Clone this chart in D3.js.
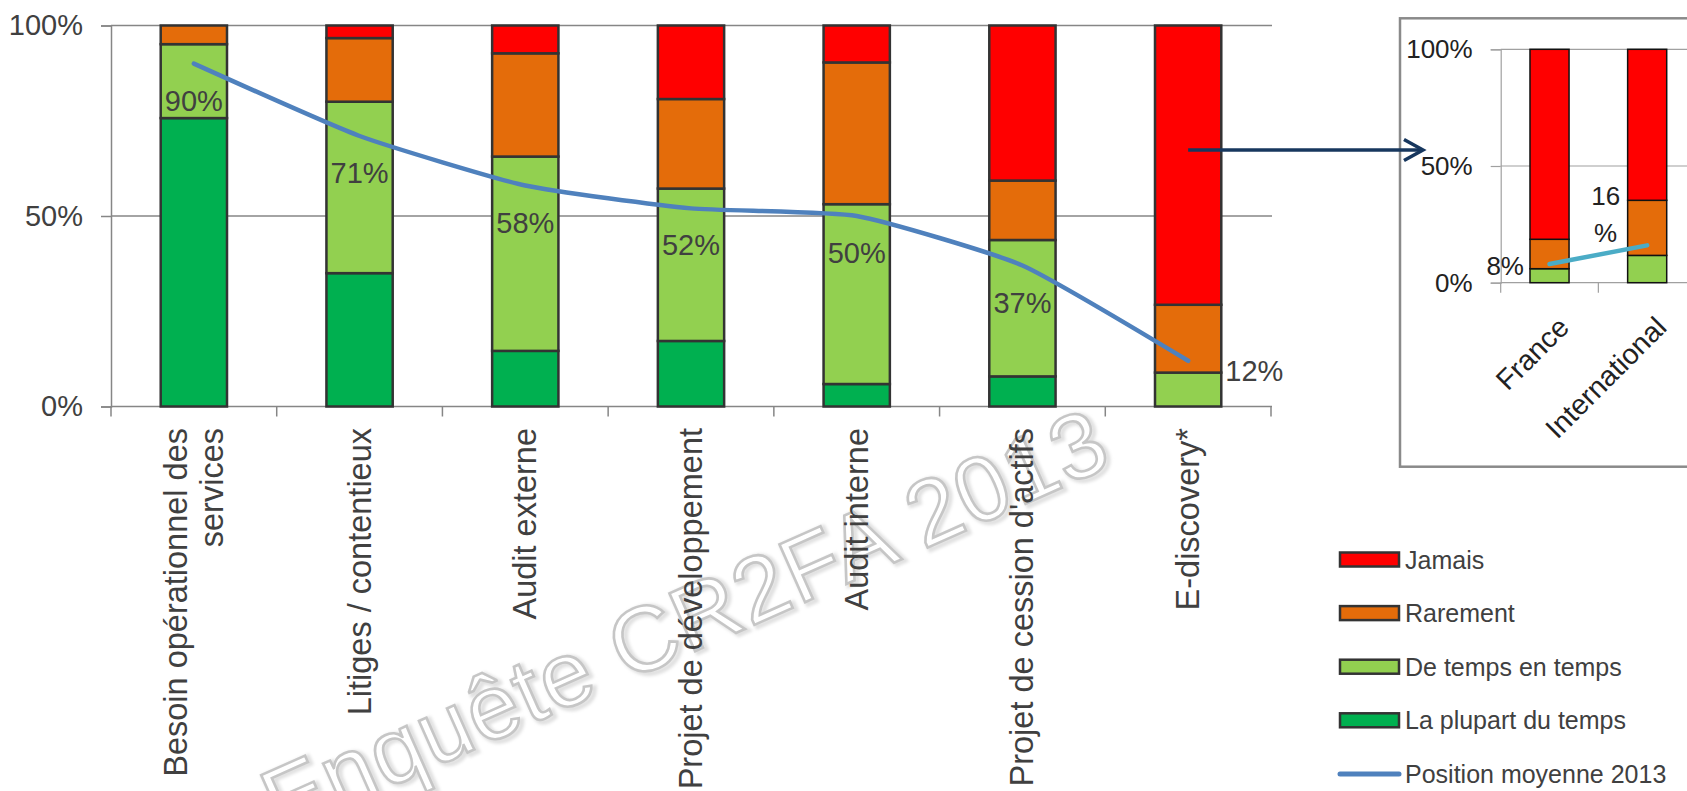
<!DOCTYPE html>
<html><head><meta charset="utf-8">
<script src="https://cdn.jsdelivr.net/npm/d3@7"></script>
<style>
body{margin:0;background:#fff;}
svg{display:block;}
text{font-family:"Liberation Sans",Arial,sans-serif;}
</style>
</head><body>
<svg id="c" width="1687" height="791"></svg>
<script>
// ---------- DATA ----------
const categories = ["Besoin opérationnel des services", "Litiges / contentieux", "Audit externe",
  "Projet de développement", "Audit interne", "Projet de cession d'actifs", "E-discovery*"];
const seriesKeys = ["La plupart du temps", "De temps en temps", "Rarement", "Jamais"];
const plupart  = [75.7, 35.0, 14.6, 17.2, 5.9, 7.9, 0];
const deTemps  = [19.4, 45.0, 51.0, 40.0, 47.2, 35.8, 8.9];
const rarement = [4.9, 16.7, 27.1, 23.5, 37.2, 15.6, 17.8];
const jamais   = [0, 3.3, 7.3, 19.3, 9.7, 40.7, 73.3];
const moyenne  = [90, 71, 58, 52, 50, 37, 12];
const yTicks = [0, 50, 100];

const insetCategories = ["France", "International"];
const insetPlupart  = [0, 0];
const insetDeTemps  = [6.0, 11.7];
const insetRarement = [12.6, 23.6];
const insetJamais   = [81.4, 64.7];
const insetMoyenne  = [8, 16];

const legendItems = ["Jamais", "Rarement", "De temps en temps", "La plupart du temps"];
const lineName = "Position moyenne 2013";
const watermark = "Enquête CR2FA 2013";

// ---------- SETUP ----------
const svg = d3.select("#c");
const colors = d3.scaleOrdinal().domain(seriesKeys).range(["#00B050", "#92D050", "#E46C0A", "#FF0000"]);
const txt = "#404040";
const axisCol = "#868686";

// ---------- WATERMARK (under everything) ----------
const defs = svg.append("defs");
const f = defs.append("filter").attr("id", "sh").attr("x", "-10%").attr("y", "-10%").attr("width", "120%").attr("height", "120%");
f.append("feGaussianBlur").attr("stdDeviation", 1.5);
const wm = svg.append("g").attr("transform", "translate(280,836) rotate(-24)").style("pointer-events", "none");
function wmText(g) {
  return g.append("text").attr("font-size", 92).attr("textLength", 913)
    .attr("font-family", '"Open Sans",sans-serif').text(watermark);
}
wmText(wm.append("g").attr("transform", "translate(2,3)"))
  .attr("fill", "none").attr("stroke", "#e0e0e0").attr("stroke-width", 5).attr("filter", "url(#sh)");
wmText(wm).attr("fill", "#fff").attr("stroke", "#c6c6c6").attr("stroke-width", 2.6);

const x = d3.scaleBand().domain(categories).range([111, 1271]).paddingInner(0.6).paddingOuter(0.3);
const y = d3.scaleLinear().domain([0, 100]).range([406.5, 25.5]);

// gridlines
svg.append("g").selectAll("line").data(yTicks).join("line")
  .attr("x1", 111).attr("x2", 1272).attr("y1", d => y(d)).attr("y2", d => y(d))
  .attr("stroke", axisCol).attr("stroke-width", 1.5);

// y axis
const yAxis = svg.append("g").attr("transform", "translate(111,0)")
  .call(d3.axisLeft(y).tickValues(yTicks).tickSize(10).tickPadding(18).tickFormat(d => d + "%"));
yAxis.select(".domain").attr("stroke", axisCol).attr("stroke-width", 1.5);
yAxis.selectAll(".tick line").attr("stroke", axisCol).attr("stroke-width", 1.5);
yAxis.selectAll(".tick text").attr("font-size", 29).attr("fill", txt)
  .attr("font-family", '"Liberation Sans",Arial,sans-serif');

// x axis boundary ticks
const step = x.step();
const bounds = categories.map(c => x(c) - (step - x.bandwidth()) / 2);
bounds.push(bounds[bounds.length - 1] + step);
svg.append("g").selectAll("line").data(bounds).join("line")
  .attr("x1", d => d).attr("x2", d => d).attr("y1", y(0)).attr("y2", y(0) + 10)
  .attr("stroke", axisCol).attr("stroke-width", 1.5);

// stacked bars
const table = categories.map((c, i) => ({cat: c, "La plupart du temps": plupart[i],
  "De temps en temps": deTemps[i], "Rarement": rarement[i], "Jamais": jamais[i]}));
const stacked = d3.stack().keys(seriesKeys)(table);
svg.append("g").selectAll("g").data(stacked).join("g")
  .attr("fill", d => colors(d.key))
  .selectAll("rect").data(d => d.filter(s => s[1] - s[0] > 0)).join("rect")
  .attr("x", d => x(d.data.cat)).attr("width", x.bandwidth())
  .attr("y", d => y(d[1])).attr("height", d => y(d[0]) - y(d[1]))
  .attr("stroke", "#333").attr("stroke-width", 2.5);

// category labels
const catG = svg.append("g");
categories.forEach(c => {
  const g = catG.append("g").attr("transform", `translate(${x(c) + x.bandwidth() / 2},428) rotate(-90)`);
  const t = g.append("text").attr("text-anchor", "end").attr("font-size", 32.5).attr("fill", txt)
    .attr("dominant-baseline", "central").text(c);
  if (t.node().getComputedTextLength() > 400) {
    const words = c.split(" ");
    const lines = [words.slice(0, -1).join(" "), words[words.length - 1]];
    t.text(null);
    lines.forEach((ln, k) => t.append("tspan").attr("x", 0).attr("y", (k - (lines.length - 1) / 2) * 36).text(ln));
  }
});

// average line
const pts = categories.map((c, i) => ({cat: c, v: moyenne[i]}));
svg.append("path").datum(pts)
  .attr("d", d3.line().x(d => x(d.cat) + x.bandwidth() / 2).y(d => y(d.v)).curve(d3.curveCardinal.tension(0.5)))
  .attr("fill", "none").attr("stroke", "#4F81BD").attr("stroke-width", 4.5).attr("stroke-linecap", "round");

// data labels
svg.append("g").selectAll("text").data(pts).join("text")
  .attr("x", (d, i) => i === pts.length - 1 ? x(d.cat) + x.bandwidth() + 4 : x(d.cat) + x.bandwidth() / 2)
  .attr("y", (d, i) => i === pts.length - 1 ? y(d.v) + 10 : y(d.v) + 37)
  .attr("text-anchor", (d, i) => i === pts.length - 1 ? "start" : "middle")
  .attr("dominant-baseline", "central").attr("font-size", 29).attr("fill", txt)
  .text(d => d.v + "%");

// ---------- INSET ----------
const inset = svg.append("g");
inset.append("rect").attr("x", 1400).attr("y", 18.3).attr("width", 400).attr("height", 448.4)
  .attr("fill", "#fff").attr("stroke", "#8a8a8a").attr("stroke-width", 2.5);
const ix = d3.scaleBand().domain(insetCategories).range([1500.7, 1696]).paddingInner(0.6).paddingOuter(0.3);
const iy = d3.scaleLinear().domain([0, 100]).range([282.7, 49.3]);
const insetFont = 'Lato,"Open Sans",sans-serif';
inset.append("g").selectAll("line").data(yTicks).join("line")
  .attr("x1", 1500.7).attr("x2", 1700).attr("y1", d => iy(d)).attr("y2", d => iy(d))
  .attr("stroke", "#a0a0a0").attr("stroke-width", 1.2);
const iyAxis = inset.append("g").attr("transform", "translate(1500.7,0)")
  .call(d3.axisLeft(iy).tickValues(yTicks).tickSize(10).tickPadding(18).tickFormat(d => d + "%"));
iyAxis.select(".domain").attr("stroke", "#a0a0a0").attr("stroke-width", 1.2);
iyAxis.selectAll(".tick line").attr("stroke", "#a0a0a0").attr("stroke-width", 1.2);
iyAxis.selectAll(".tick text").attr("font-size", 26).attr("fill", "#222").attr("font-family", insetFont);
const ibounds = insetCategories.map(c => ix(c) - (ix.step() - ix.bandwidth()) / 2);
inset.append("g").selectAll("line").data(ibounds).join("line")
  .attr("x1", d => d).attr("x2", d => d).attr("y1", iy(0)).attr("y2", iy(0) + 10)
  .attr("stroke", "#a0a0a0").attr("stroke-width", 1.2);
const itable = insetCategories.map((c, i) => ({cat: c, "La plupart du temps": insetPlupart[i],
  "De temps en temps": insetDeTemps[i], "Rarement": insetRarement[i], "Jamais": insetJamais[i]}));
const istacked = d3.stack().keys(seriesKeys)(itable);
inset.append("g").selectAll("g").data(istacked).join("g")
  .attr("fill", d => colors(d.key))
  .selectAll("rect").data(d => d.filter(s => s[1] - s[0] > 0)).join("rect")
  .attr("x", d => ix(d.data.cat)).attr("width", ix.bandwidth())
  .attr("y", d => iy(d[1])).attr("height", d => iy(d[0]) - iy(d[1]))
  .attr("stroke", "#111").attr("stroke-width", 1.5);
const ipts = insetCategories.map((c, i) => ({cat: c, v: insetMoyenne[i]}));
inset.append("path").datum(ipts)
  .attr("d", d3.line().x(d => ix(d.cat) + ix.bandwidth() / 2).y(d => iy(d.v)))
  .attr("fill", "none").attr("stroke", "#4BACC6").attr("stroke-width", 4.5).attr("stroke-linecap", "round");
// inset labels
inset.append("text").attr("x", ix(ipts[0].cat) - 6).attr("y", iy(ipts[0].v) + 2)
  .attr("text-anchor", "end").attr("dominant-baseline", "central")
  .attr("font-size", 26).attr("fill", "#222").attr("font-family", insetFont).text(ipts[0].v + "%");
const l2 = inset.append("text").attr("text-anchor", "middle").attr("dominant-baseline", "central")
  .attr("font-size", 26).attr("fill", "#222").attr("font-family", insetFont);
l2.append("tspan").attr("x", ix(ipts[1].cat) - 22).attr("y", iy(ipts[1].v) - 49).text(ipts[1].v);
l2.append("tspan").attr("x", ix(ipts[1].cat) - 22).attr("y", iy(ipts[1].v) - 12).text("%");
insetCategories.forEach(c => {
  inset.append("text").attr("transform", `translate(${ix(c) + ix.bandwidth() / 2 + 14},322) rotate(-45)`)
    .attr("text-anchor", "end").attr("dominant-baseline", "central")
    .attr("font-size", 28.5).attr("fill", "#222").attr("font-family", insetFont).text(c);
});

// arrow
const last = categories[categories.length - 1];
const ax0 = x(last) + x.bandwidth() / 2, ay = y(67.3), ax1 = 1423;
svg.append("line").attr("x1", ax0).attr("x2", ax1 - 2).attr("y1", ay).attr("y2", ay)
  .attr("stroke", "#17375E").attr("stroke-width", 3.5);
svg.append("path").attr("d", `M${ax1 - 19},${ay - 10.5}L${ax1},${ay}L${ax1 - 19},${ay + 10.5}`)
  .attr("fill", "none").attr("stroke", "#17375E").attr("stroke-width", 3.5);

// ---------- LEGEND ----------
const leg = svg.append("g");
legendItems.forEach((k, i) => {
  const cy = 559.5 + i * 53.6;
  leg.append("rect").attr("x", 1340).attr("y", cy - 7).attr("width", 59).attr("height", 14)
    .attr("fill", colors(k)).attr("stroke", "#333").attr("stroke-width", 2.5);
  leg.append("text").attr("x", 1405).attr("y", cy).attr("dominant-baseline", "central")
    .attr("font-size", 25).attr("fill", txt).text(k);
});
const ly = 559.5 + 4 * 53.6;
leg.append("line").attr("x1", 1340).attr("x2", 1399).attr("y1", ly).attr("y2", ly)
  .attr("stroke", "#4F81BD").attr("stroke-width", 5).attr("stroke-linecap", "round");
leg.append("text").attr("x", 1405).attr("y", ly).attr("dominant-baseline", "central")
  .attr("font-size", 25).attr("fill", txt).text(lineName);
</script>
</body></html>
